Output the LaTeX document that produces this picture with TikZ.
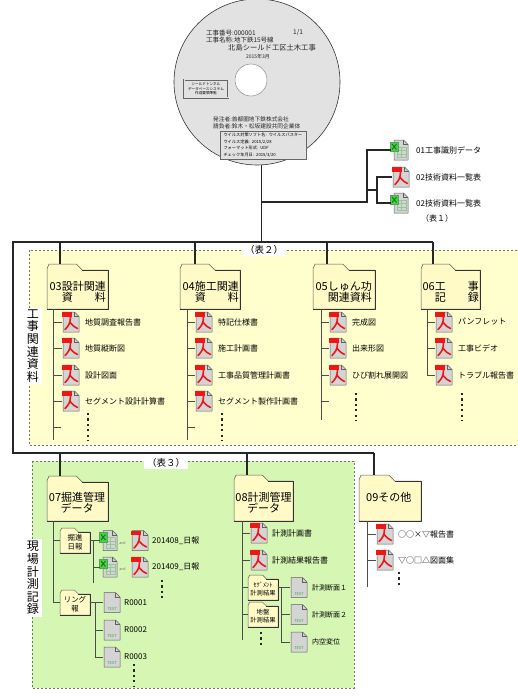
\documentclass[tikz,border=0pt]{standalone}
\usepackage{fontspec}
\setmainfont{Noto Sans CJK JP}
\usetikzlibrary{calc}

\definecolor{zoneyellow}{RGB}{255,255,206}
\definecolor{zonegreen}{RGB}{214,246,180}
\definecolor{folderfill}{RGB}{255,250,198}
\definecolor{discgray}{RGB}{226,226,226}
\definecolor{pdfred}{RGB}{236,24,24}
\definecolor{xlbadge}{RGB}{70,210,70}
\definecolor{xldark}{RGB}{20,120,20}
\definecolor{xlgrid}{RGB}{150,200,150}
\definecolor{txtgreen}{RGB}{60,175,60}

\tikzset{
  trunk/.style={line width=1.1pt, black!85},
  branch/.style={line width=0.7pt, black!70},
  zone/.style={draw=black!55, line width=0.6pt, dash pattern=on 2.4pt off 1.6pt},
  foldershape/.style={fill=folderfill, draw=black!65, line width=0.5pt, line join=round},
  foldershadow/.style={draw=black!80, line width=1pt, line join=round},
  iconbox/.style={inner sep=0pt, minimum width=18pt, minimum height=21pt},
  page/.style={fill=black!17, draw=black!62, line width=0.5pt, line join=round},
  entry/.style={anchor=west, inner sep=0pt, font=\fontsize{8}{8}\selectfont},
  ftitle/.style={inner sep=0pt, font=\fontsize{11}{10.6}\selectfont},
  fsmall/.style={inner sep=0pt, align=center, font=\fontsize{7.4}{9.5}\selectfont},
  tag/.style={fill=white, inner xsep=3pt, inner ysep=1.5pt, font=\fontsize{9.5}{9.5}\selectfont},
  sidelabel/.style={fill=white, inner xsep=2.5pt, inner ysep=2pt, align=center, font=\fontsize{12}{12.6}\selectfont},
  ellip/.style={line width=2.2pt, dash pattern=on 2.2pt off 3.2pt, black!85},
  disctext/.style={inner sep=0pt, anchor=west, text=black!85},
}

% file icons: acrobat document, spreadsheet, plain text
\newcommand\pdficon[3]{%
  \node[iconbox] (#1) at (#2,#3) {};
  \begin{scope}[shift={(#1.center)}]
    \path[page] (-8,-10) -- (3.5,-10) -- (8,-5.5) -- (8,10) -- (-8,10) -- cycle;
    \draw[black!62, line width=0.5pt] (3.5,-10) -- (3.5,-5.5) -- (8,-5.5);
    \fill[pdfred] (-9.5,-10) rectangle (0.5,-5.5);
    \draw[pdfred, line width=1.6pt, line cap=round] (-0.5,-5) .. controls (-0.5,1) and (-2.5,4) .. (-6,7.5);
    \draw[pdfred, line width=1.6pt, line cap=round] (-0.8,0.5) .. controls (1.5,3.5) and (4,5.5) .. (6.5,6.5);
  \end{scope}}

\newcommand\xlicon[3]{%
  \node[iconbox] (#1) at (#2,#3) {};
  \begin{scope}[shift={(#1.center)}]
    \path[page] (-6,-10) -- (3.5,-10) -- (8,-5.5) -- (8,10) -- (-6,10) -- cycle;
    \draw[black!62, line width=0.5pt] (3.5,-10) -- (3.5,-5.5) -- (8,-5.5);
    \foreach \yy in {-3,0.5,4,7.5} \draw[xlgrid, line width=0.4pt] (-3,\yy) -- (6,\yy);
    \foreach \xx in {-3,1.5,6} \draw[xlgrid, line width=0.4pt] (\xx,-3) -- (\xx,7.5);
    \filldraw[fill=xlbadge, draw=xldark!70, line width=0.5pt] (-10,-8) rectangle (-1.5,1.5);
    \draw[xldark, line width=0.9pt] (-8,-6) -- (-3.5,-0.5) (-8,-0.5) -- (-3.5,-6);
  \end{scope}}

\newcommand\txticon[3]{%
  \node[iconbox] (#1) at (#2,#3) {};
  \begin{scope}[shift={(#1.center)}]
    \path[page] (-8,-10) -- (3.5,-10) -- (8,-5.5) -- (8,10) -- (-8,10) -- cycle;
    \draw[black!62, line width=0.5pt] (3.5,-10) -- (3.5,-5.5) -- (8,-5.5);
    \node[inner sep=0pt, text=txtgreen, font=\fontsize{4}{4}\selectfont] (#1-lbl) at (0,6.5) {TEXT};
  \end{scope}}

% folder outline: [tab depth]{name}{left}{top}{right}{bottom}
\newcommand\drawfolder[6][6]{%
  \path[foldershape] (#3,#6) -- (#3,#4+#1-1) -- (#3+2,#4) -- ({#3+0.48*(#5-#3)},#4) -- ({#3+0.48*(#5-#3)+#1},#4+#1) -- (#5,#4+#1) -- (#5,#6) -- cycle;
  \draw[foldershadow] ({#3+0.48*(#5-#3)+#1},#4+#1) -- (#5,#4+#1) -- (#5,#6) -- (#3,#6);
  \node[inner sep=0pt, minimum width={(#5-#3)*1pt}, minimum height={(#6-#4)*1pt}] (#2) at ({(#3+#5)/2},{(#4+#6)/2}) {};}

\begin{document}
\begin{tikzpicture}[x=1pt, y=-1pt]
\useasboundingbox (0,0) rectangle (518,698);
\clip (0,0) rectangle (518,698);

% shaded groups
\path[zone, fill=zoneyellow] (29,250) rectangle (540,445);
\path[zone, fill=zonegreen] (32,461) rectangle (354,688);

% disc
\node[circle, minimum size=166pt, inner sep=0pt, fill=discgray, draw=black!80, line width=0.6pt] (cd) at (257,82) {};
\node[circle, minimum size=32pt, inner sep=0pt, fill=white, draw=black!45, line width=0.5pt] (hole) at (251,80) {};
\node[disctext, font=\fontsize{6.5}{6.5}\selectfont] (cd1) at (206,33) {工事番号:000001};
\node[disctext, font=\fontsize{6.5}{6.5}\selectfont] (cd2) at (293,33) {1/1};
\node[disctext, font=\fontsize{6.5}{6.5}\selectfont] (cd3) at (206,40.5) {工事名称:地下鉄15号線};
\node[disctext, font=\fontsize{7.3}{7.3}\selectfont] (cd4) at (228,48) {北島シールド工区土木工事};
\node[inner sep=0pt, text=black!85, font=\fontsize{5}{5}\selectfont] (cd5) at (258,57) {2015年3月};
\node[draw=black!60, line width=0.4pt, double=discgray, double distance=1pt, fill=discgray,
      minimum width=44pt, minimum height=18pt, inner sep=0pt, align=center,
      font=\fontsize{3.6}{4.4}\selectfont] (cdbox1) at (206,89) {シールドトンネル\\データベースシステム\\作成要領準拠};
\node[disctext, font=\fontsize{5.7}{5.7}\selectfont] (cd6) at (213,119.5) {発注者:首都圏地下鉄株式会社};
\node[disctext, font=\fontsize{5.7}{5.7}\selectfont] (cd7) at (213,126) {請負者:鈴木・松坂建設共同企業体};
\node[draw=black!60, line width=0.4pt, fill=discgray, minimum width=86pt, minimum height=28pt,
      inner sep=0pt, text width=80pt, align=left,
      font=\fontsize{4.2}{6.5}\selectfont] (cdbox2) at (263.5,145) {ウイルス対策ソフト名: ウイルスバスター\\ウイルス定義: 2015/2/28\\フォーマット形式: UDF\\チェック年月日: 2015/3/20};

% files beside the disc
\xlicon{x01}{400}{150}
\pdficon{p02}{401}{177}
\xlicon{x02}{400}{203}
\node[entry] (x01l) at (416,150) {01工事識別データ};
\node[entry] (p02l) at (416,177) {02技術資料一覧表};
\node[entry] (x02l) at (416,203) {02技術資料一覧表};
\node[inner sep=0pt, font=\fontsize{8}{8}\selectfont] (tb1) at (437,218) {（表１）};

% group captions
\node[tag] (tb2) at (264,250) {（表２）};
\node[tag] (tb3) at (166,463) {（表３）};
\node[sidelabel] (side1) at (33,346) {工\\事\\関\\連\\資\\料};
\node[sidelabel] (side2) at (33,578) {現\\場\\計\\測\\記\\録};

% folders
\drawfolder{f03}{47}{264}{108}{309}
\drawfolder{f04}{180}{264}{240}{309}
\drawfolder{f05}{313}{264}{375}{309}
\drawfolder{f06}{421}{264}{480}{309}
\drawfolder{f07}{47}{476}{108}{521}
\drawfolder{f08}{234}{475}{293}{521}
\drawfolder{f09}{359}{475}{421}{521}
\drawfolder[4]{k1}{60}{528}{90}{553}
\drawfolder[4]{k2}{60}{590}{90}{615}
\drawfolder[4]{s1}{248}{575}{278}{600}
\drawfolder[4]{s2}{248}{602}{278}{627}

\node[ftitle, align=right, anchor=east] (f03l) at (106,292) {03設計関連\\資　　料};
\node[ftitle, align=right, anchor=east] (f04l) at (239,292) {04施工関連\\資　　料};
\node[ftitle, align=right, anchor=east] (f05l) at (372,292) {05しゅん功\\関連資料};
\node[ftitle, align=right, anchor=east] (f06l) at (479,292) {06工　　事\\記　　録};
\node[ftitle, align=center] (f07l) at (77,502.5) {07掘進管理\\データ};
\node[ftitle, align=center] (f08l) at (263.5,502.5) {08計測管理\\データ};
\node[ftitle, anchor=west] (f09l) at (366,497) {09その他};
\node[fsmall] (k1l) at (75,542) {掘進\\日報};
\node[fsmall] (k2l) at (75,604) {リング\\報};
\node[fsmall, font=\fontsize{6.3}{8}\selectfont] (s1l) at (263,589) {ｾｸﾞﾒﾝﾄ\\計測結果};
\node[fsmall, font=\fontsize{6.3}{8}\selectfont] (s2l) at (263,616) {地盤\\計測結果};

% 03 design documents
\pdficon{p31}{71}{322} \node[entry] (p31l) at (85,322) {地質調査報告書};
\pdficon{p32}{71}{348} \node[entry] (p32l) at (85,348) {地質縦断図};
\pdficon{p33}{71}{375} \node[entry] (p33l) at (85,375) {設計図面};
\pdficon{p34}{71}{401} \node[entry] (p34l) at (85,401) {セグメント設計計算書};
% 04 construction documents
\pdficon{p41}{204}{322} \node[entry] (p41l) at (218,322) {特記仕様書};
\pdficon{p42}{204}{348} \node[entry] (p42l) at (218,348) {施工計画書};
\pdficon{p43}{204}{375} \node[entry] (p43l) at (218,375) {工事品質管理計画書};
\pdficon{p44}{204}{401} \node[entry] (p44l) at (218,401) {セグメント製作計画書};
% 05 completion documents
\pdficon{p51}{338}{322} \node[entry] (p51l) at (352,322) {完成図};
\pdficon{p52}{338}{348} \node[entry] (p52l) at (352,348) {出来形図};
\pdficon{p53}{338}{375} \node[entry] (p53l) at (352,375) {ひび割れ展開図};
% 06 construction records
\pdficon{p61}{444}{322} \node[entry] (p61l) at (458,322) {パンフレット};
\pdficon{p62}{444}{348} \node[entry] (p62l) at (458,348) {工事ビデオ};
\pdficon{p63}{444}{375} \node[entry] (p63l) at (458,375) {トラブル報告書};

% 07 excavation data
\xlicon{x71}{109}{540.5} \pdficon{p71}{140}{540.5}
\xlicon{x72}{109}{567}   \pdficon{p72}{140}{567}
\node[inner sep=0pt, text=black!55, font=\fontsize{3.6}{3.6}\selectfont] (and1) at (122.5,543) {and};
\node[inner sep=0pt, text=black!55, font=\fontsize{3.6}{3.6}\selectfont] (and2) at (122.5,569.5) {and};
\node[entry] (p71l) at (152,540.5) {201408\_日報};
\node[entry] (p72l) at (152,567) {201409\_日報};
\txticon{r1}{112}{602.5} \node[entry] (r1l) at (124,602.5) {R0001};
\txticon{r2}{112}{630}   \node[entry] (r2l) at (124,630) {R0002};
\txticon{r3}{112}{657}   \node[entry] (r3l) at (124,657) {R0003};

% 08 measurement data
\pdficon{p81}{259}{533} \node[entry] (p81l) at (272,533) {計測計画書};
\pdficon{p82}{259}{560} \node[entry] (p82l) at (272,560) {計測結果報告書};
\txticon{tt1}{299}{587.5} \node[entry, font=\fontsize{7}{7}\selectfont] (tt1l) at (312,587.5) {計測断面１};
\txticon{tt2}{299}{614.5} \node[entry, font=\fontsize{7}{7}\selectfont] (tt2l) at (312,614.5) {計測断面２};
\txticon{tt3}{299}{642}   \node[entry, font=\fontsize{7}{7}\selectfont] (tt3l) at (312,642) {内空変位};

% 09 others
\pdficon{p91}{385}{534} \node[entry] (p91l) at (398,534) {○○×▽報告書};
\pdficon{p92}{385}{560} \node[entry] (p92l) at (398,560) {▽○□△図面集};

% main hierarchy
\coordinate (topL) at (13,242);
\coordinate (botL) at (13,453);
\coordinate (d03) at (60,242);
\coordinate (d04) at (195,242);
\coordinate (d05) at (327,242);
\coordinate (d06) at (433,242);
\coordinate (d07) at (60,453);
\coordinate (d08) at (247,453);
\coordinate (d09) at (374,453);
\draw[trunk] (d06) -- (topL) -- (botL) -- (d09);
\draw[trunk] (cd.-87) -- (cd.-87 |- topL);
\foreach \d/\f in {d03/f03,d04/f04,d05/f05,d06/f06,d07/f07,d08/f08,d09/f09}
  \draw[trunk] (\d) -- (\d |- \f.north);

% branch to the loose files
\coordinate (rb) at (367,202);
\coordinate (rb2) at (377,190);
\draw[trunk] (cd.-87 |- rb) -- (rb) |- (x01.west);
\draw[trunk] (rb |- rb2) -- (rb2);
\draw[trunk] (p02.west) -| (rb2);
\draw[trunk] (x02.west) -| (rb2);

% folder contents
\coordinate (t03) at (53,309); \coordinate (e03) at (61,427); \coordinate (z03) at (53,440);
\draw[branch] (t03) -- (z03);
\foreach \n in {p31,p32,p33,p34} \draw[branch] (t03 |- \n.west) -- (\n.west);
\draw[branch] (t03 |- e03) -- (e03);

\coordinate (t04) at (187,309); \coordinate (e04) at (195,427); \coordinate (z04) at (187,440);
\draw[branch] (t04) -- (z04);
\foreach \n in {p41,p42,p43,p44} \draw[branch] (t04 |- \n.west) -- (\n.west);
\draw[branch] (t04 |- e04) -- (e04);

\coordinate (t05) at (321,309); \coordinate (e05) at (329,401); \coordinate (z05) at (321,420);
\draw[branch] (t05) -- (z05);
\foreach \n in {p51,p52,p53} \draw[branch] (t05 |- \n.west) -- (\n.west);
\draw[branch] (t05 |- e05) -- (e05);

\coordinate (t06) at (427,309);
\draw[branch] (t06) |- (p63.west);
\foreach \n in {p61,p62} \draw[branch] (t06 |- \n.west) -- (\n.west);

\coordinate (t07) at (53,521);
\draw[branch] (t07) |- (k2.west);
\draw[branch] (t07 |- k1.west) -- (k1.west);
\coordinate (b71) at (93,540.5); \coordinate (b71e) at (93,583);
\draw[branch] (k1.east) -- (x71.west);
\draw[branch] (b71) -- (b71e);
\draw[branch] (b71 |- x72.west) -- (x72.west);
\coordinate (b72) at (95,602.5);
\draw[branch] (k2.east) -- (r1.west);
\draw[branch] (b72) |- (r3.west);
\draw[branch] (b72 |- r2.west) -- (r2.west);

\coordinate (t08) at (242,521); \coordinate (z08) at (242,640);
\draw[branch] (t08) -- (z08);
\foreach \n in {p81,p82,s1,s2} \draw[branch] (t08 |- \n.west) -- (\n.west);
\coordinate (b81) at (281,587.5);
\draw[branch] (s1.east) -- (tt1.west);
\draw[branch] (b81) |- (tt3.west);
\draw[branch] (b81 |- tt2.west) -- (tt2.west);

\coordinate (t09) at (367,521); \coordinate (z09) at (367,587);
\draw[branch] (t09) -- (z09);
\foreach \n in {p91,p92} \draw[branch] (t09 |- \n.west) -- (\n.west);

% continuation marks
\coordinate (m03a) at (88,413);  \coordinate (m03b) at (88,441);
\coordinate (m04a) at (222,413); \coordinate (m04b) at (222,441);
\coordinate (m05a) at (356,393); \coordinate (m05b) at (356,421);
\coordinate (m06a) at (462,393); \coordinate (m06b) at (462,421);
\coordinate (m07a) at (162,580); \coordinate (m07b) at (162,601);
\coordinate (m7ra) at (134,664); \coordinate (m7rb) at (134,687);
\coordinate (m08a) at (261,632); \coordinate (m08b) at (261,648);
\coordinate (m09a) at (399,572); \coordinate (m09b) at (399,588);
\foreach \a/\b in {m03a/m03b,m04a/m04b,m05a/m05b,m06a/m06b,m07a/m07b,m7ra/m7rb,m08a/m08b,m09a/m09b}
  \draw[ellip] (\a) -- (\b);
\end{tikzpicture}
\end{document}
